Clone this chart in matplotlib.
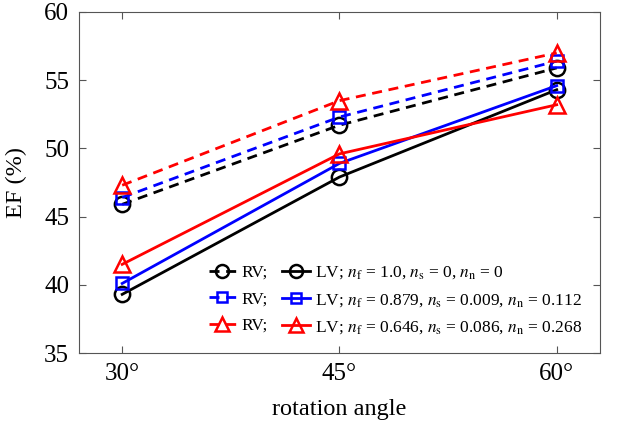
import matplotlib
matplotlib.use('Agg')
import matplotlib.pyplot as plt

plt.rcParams['font.family'] = ['Liberation Serif', 'DejaVu Serif']
plt.rcParams['mathtext.fontset'] = 'stix'

# rotation angles (degrees)
angles = [30, 45, 60]
tick_labels = ['30°', '45°', '60°']

# EF (%) for RV (dashed) and LV (solid)
rv_black = [45.9, 51.7, 55.9]
rv_blue = [46.4, 52.3, 56.4]
rv_red = [47.3, 53.5, 57.0]
lv_black = [39.3, 47.9, 54.3]
lv_blue = [40.1, 48.9, 54.6]
lv_red = [41.5, 49.6, 53.2]

lv_labels = [
    r'LV; $n_\mathrm{f}$ = 1.0, $n_\mathrm{s}$ = 0, $n_\mathrm{n}$ = 0',
    r'LV; $n_\mathrm{f}$ = 0.879, $n_\mathrm{s}$ = 0.009, $n_\mathrm{n}$ = 0.112',
    r'LV; $n_\mathrm{f}$ = 0.646, $n_\mathrm{s}$ = 0.086, $n_\mathrm{n}$ = 0.268',
]

fig = plt.figure(figsize=(6.2, 4.21), dpi=100)
ax = fig.add_axes([0.127, 0.1615, 0.841, 0.81])

styles = [('black', 'o'), ('blue', 's'), ('red', '^')]
msizes = {'o': 11, 's': 9, '^': 12}
rv_handles = []
lv_handles = []
for (c, m), rv in zip(styles, [rv_black, rv_blue, rv_red]):
    h, = ax.plot(angles, rv, color=c, ls='--', lw=2, marker=m, ms=msizes[m],
                 mfc='none', mew=1.8, dashes=(3.6, 2.4), label='RV;')
    rv_handles.append(h)
for (c, m), lv, lab in zip(styles, [lv_black, lv_blue, lv_red], lv_labels):
    h, = ax.plot(angles, lv, color=c, ls='-', lw=2, marker=m, ms=msizes[m],
                 mfc='none', mew=1.8, label=lab)
    lv_handles.append(h)

ax.set_xlim(27, 63)
ax.set_ylim(35, 60)
ax.set_xticks(angles)
ax.set_xticklabels(tick_labels)
ax.set_yticks([35, 40, 45, 50, 55, 60])
ax.tick_params(direction='in', top=True, right=True, labelsize=18, length=5,
               color='#555555', pad=7)
for s in ax.spines.values():
    s.set_color('#555555')
ax.set_xlabel('rotation angle', fontsize=17.5, labelpad=10)
ax.set_ylabel('EF (%)', fontsize=17.5, labelpad=12)

ax.legend(rv_handles + lv_handles,
          [h.get_label() for h in rv_handles + lv_handles],
          ncol=2, frameon=False, fontsize=12.5, loc='lower right',
          bbox_to_anchor=(0.985, 0.02), handlelength=1.6, handletextpad=0.3,
          columnspacing=0.8, labelspacing=0.6, borderaxespad=0.2,
          markerscale=0.85)

fig.savefig('out.png', dpi=100)
